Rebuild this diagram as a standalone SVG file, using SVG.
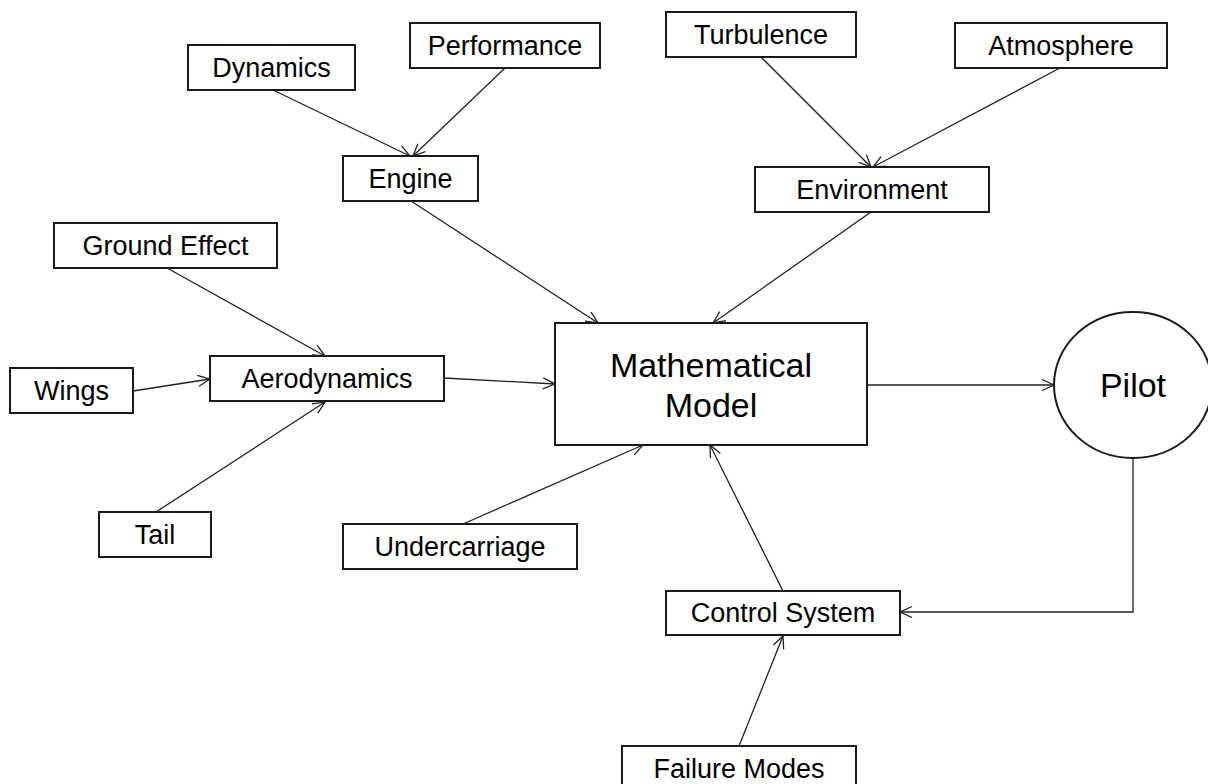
<svg xmlns="http://www.w3.org/2000/svg" width="1208" height="784" viewBox="0 0 1208 784">
<style>
.box{fill:#fff;stroke:#1a1a1a;stroke-width:2}
.lbl{font-family:"Liberation Sans",Arial,sans-serif;font-size:27px;fill:#000;text-anchor:middle}
.big{font-family:"Liberation Sans",Arial,sans-serif;font-size:34px;fill:#000;text-anchor:middle}
.con{fill:none;stroke:#222;stroke-width:1.3;marker-end:url(#arr)}
</style>
<defs>
<marker id="arr" markerUnits="userSpaceOnUse" markerWidth="16" markerHeight="14" refX="13" refY="6" orient="auto">
<path d="M1,0.5 L13,6 L1,11.5" fill="none" stroke="#222" stroke-width="1.3"/>
</marker>
</defs>
<rect width="1208" height="784" fill="#fff"/>
<g id="connectors">
<line class="con" x1="273" y1="90" x2="410" y2="156"/>
<line class="con" x1="505" y1="68" x2="413" y2="156"/>
<line class="con" x1="411" y1="201" x2="598" y2="323"/>
<line class="con" x1="761" y1="57" x2="871" y2="167"/>
<line class="con" x1="1060" y1="68" x2="873" y2="167"/>
<line class="con" x1="871" y1="212" x2="713" y2="323"/>
<line class="con" x1="167" y1="268" x2="325" y2="356"/>
<line class="con" x1="133" y1="391" x2="210" y2="379"/>
<line class="con" x1="156" y1="512" x2="325" y2="402"/>
<line class="con" x1="444" y1="378" x2="555" y2="384"/>
<line class="con" x1="867" y1="385" x2="1054" y2="385"/>
<line class="con" x1="463" y1="524" x2="643" y2="445"/>
<line class="con" x1="783" y1="591" x2="710" y2="445"/>
<polyline class="con" points="1133,457 1133,612 900,612"/>
<line class="con" x1="739" y1="746" x2="783" y2="636"/>
</g>
<g id="dynamics"><rect class="box" x="188" y="45" width="167" height="45"/><text class="lbl" x="271.5" y="77">Dynamics</text></g>
<g id="performance"><rect class="box" x="410" y="23" width="190" height="45"/><text class="lbl" x="505" y="55">Performance</text></g>
<g id="engine"><rect class="box" x="343" y="156" width="135" height="45"/><text class="lbl" x="410.5" y="188">Engine</text></g>
<g id="turbulence"><rect class="box" x="666" y="12" width="190" height="45"/><text class="lbl" x="761" y="44">Turbulence</text></g>
<g id="atmosphere"><rect class="box" x="955" y="23" width="212" height="45"/><text class="lbl" x="1061" y="55">Atmosphere</text></g>
<g id="environment"><rect class="box" x="755" y="167" width="234" height="45"/><text class="lbl" x="872" y="199">Environment</text></g>
<g id="ground-effect"><rect class="box" x="54" y="223" width="223" height="45"/><text class="lbl" x="165.5" y="255">Ground Effect</text></g>
<g id="aerodynamics"><rect class="box" x="210" y="356" width="234" height="45"/><text class="lbl" x="327" y="388">Aerodynamics</text></g>
<g id="wings"><rect class="box" x="10" y="368" width="123" height="45"/><text class="lbl" x="71.5" y="400">Wings</text></g>
<g id="tail"><rect class="box" x="99" y="512" width="112" height="45"/><text class="lbl" x="155" y="544">Tail</text></g>
<g id="undercarriage"><rect class="box" x="343" y="524" width="234" height="45"/><text class="lbl" x="460" y="556">Undercarriage</text></g>
<g id="mathematical-model"><rect class="box" x="555" y="323" width="312" height="122"/><text class="big" x="711" y="377">Mathematical</text><text class="big" x="711" y="417">Model</text></g>
<g id="pilot"><ellipse class="box" cx="1133" cy="385" rx="79" ry="73"/><text class="big" x="1133" y="397">Pilot</text></g>
<g id="control-system"><rect class="box" x="666" y="591" width="234" height="44"/><text class="lbl" x="783" y="622">Control System</text></g>
<g id="failure-modes"><rect class="box" x="622" y="746" width="234" height="45"/><text class="lbl" x="739" y="778">Failure Modes</text></g>
</svg>
